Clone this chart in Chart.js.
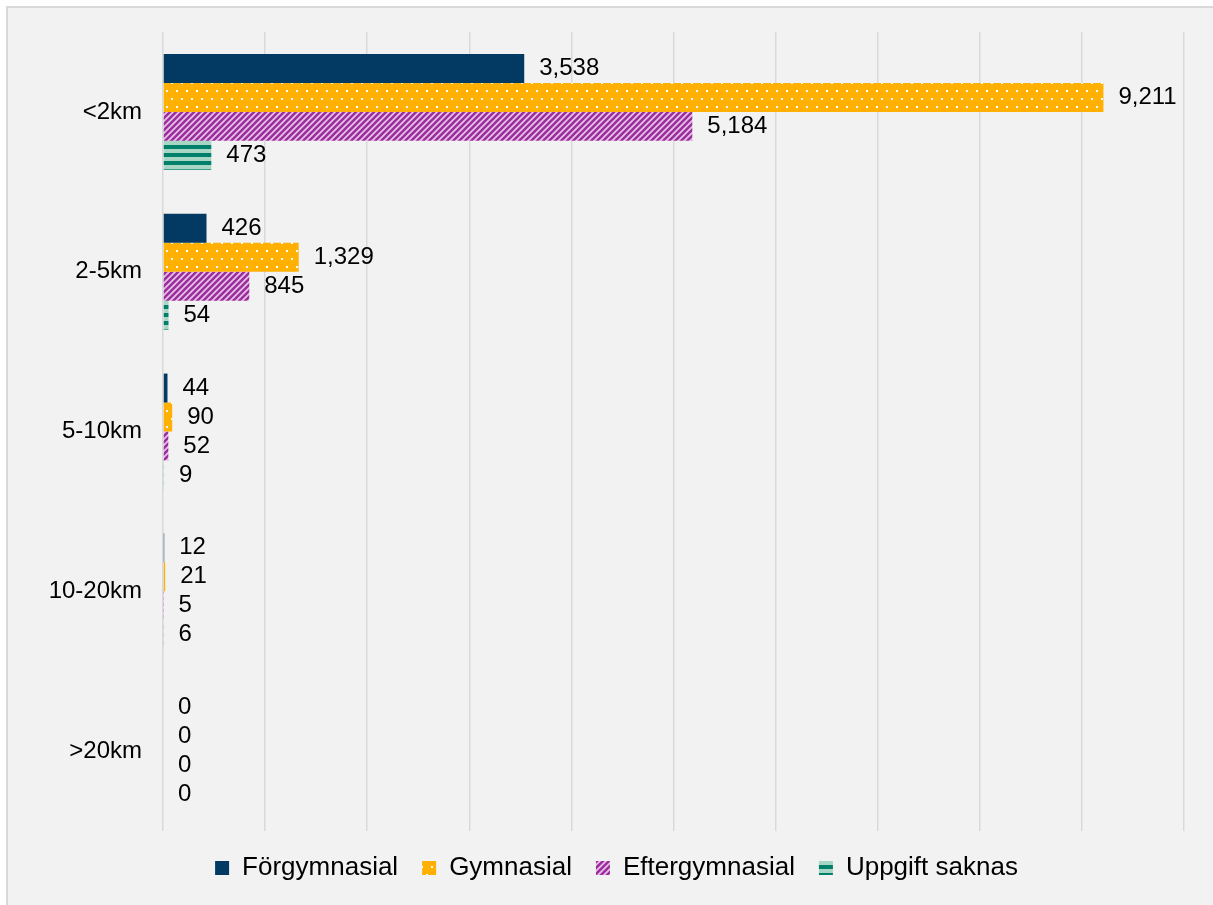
<!DOCTYPE html>
<html>
<head>
<meta charset="utf-8">
<title>Avstånd</title>
<script src="https://cdn.jsdelivr.net/npm/chart.js@4"></script>
<style>
  html, body { margin: 0; padding: 0; background: #fff; }
  #frame {
    position: absolute; left: 6px; top: 6px; width: 1207px; height: 899px;
    background: #f2f2f2; border-top: 2px solid #d9d9d9; border-left: 2px solid #d9d9d9;
  }
  #myChart { position: absolute; left: 0; top: 0; }
</style>
</head>
<body>
<div id="frame"></div>
<canvas id="myChart" width="1213" height="905"></canvas>
<script>
var categories = ['<2km', '2-5km', '5-10km', '10-20km', '>20km'];
var seriesNames = ['Förgymnasial', 'Gymnasial', 'Eftergymnasial', 'Uppgift saknas'];
var forgymnasial = [3538, 426, 44, 12, 0];
var gymnasial = [9211, 1329, 90, 21, 0];
var eftergymnasial = [5184, 845, 52, 5, 0];
var saknas = [473, 54, 9, 6, 0];

Chart.defaults.font.family = '"Liberation Sans", Arial, sans-serif';
Chart.defaults.color = '#000';

var canvas = document.getElementById('myChart');
var ctx = canvas.getContext('2d');

function makePattern(w, h, draw) {
  var c = document.createElement('canvas');
  c.width = w;
  c.height = h;
  draw(c.getContext('2d'), w, h);
  return ctx.createPattern(c, 'repeat');
}

// orange with small white dots
var dots = makePattern(10, 16, function(g, w, h) {
  g.fillStyle = '#ffb000';
  g.fillRect(0, 0, w, h);
  g.fillStyle = '#ffffff';
  g.fillRect(1, 2, 2, 2);
  g.fillRect(6, 10, 2, 2);
});

// purple diagonal hatch
var hatch = makePattern(6, 6, function(g, w, h) {
  g.fillStyle = '#e9c3ea';
  g.fillRect(0, 0, w, h);
  g.strokeStyle = '#9b2f9d';
  g.lineWidth = 2.6;
  g.beginPath();
  g.moveTo(-1, 7); g.lineTo(7, -1);
  g.moveTo(-4, 4); g.lineTo(4, -4);
  g.moveTo(2, 10); g.lineTo(10, 2);
  g.stroke();
});

// green horizontal stripes
var stripes = makePattern(8, 8, function(g, w, h) {
  g.fillStyle = '#a8d6c4';
  g.fillRect(0, 0, w, h);
  g.fillStyle = '#00806a';
  g.fillRect(0, 1, w, 4);
});

var valueLabels = {
  id: 'valueLabels',
  afterDatasetsDraw: function(chart) {
    var c = chart.ctx;
    c.save();
    c.font = '24px "Liberation Sans", Arial, sans-serif';
    c.fillStyle = '#000';
    c.textAlign = 'left';
    c.textBaseline = 'middle';
    chart.data.datasets.forEach(function(ds, i) {
      chart.getDatasetMeta(i).data.forEach(function(bar, j) {
        c.fillText(ds.data[j].toLocaleString('en-US'), bar.x + 15, bar.y);
      });
    });
    c.restore();
  }
};

var myChart = new Chart(ctx, {
  type: 'bar',
  data: {
    labels: categories,
    datasets: [
      { label: seriesNames[0], data: forgymnasial, backgroundColor: '#023a63' },
      { label: seriesNames[1], data: gymnasial, backgroundColor: dots },
      { label: seriesNames[2], data: eftergymnasial, backgroundColor: hatch },
      { label: seriesNames[3], data: saknas, backgroundColor: stripes }
    ]
  },
  options: {
    indexAxis: 'y',
    responsive: false,
    animation: false,
    categoryPercentage: 0.725,
    barPercentage: 1,
    borderWidth: 0,
    layout: {
      padding: { left: 49, right: 29, top: 32, bottom: 14 }
    },
    scales: {
      x: {
        min: 0,
        max: 10000,
        ticks: { display: false, stepSize: 1000 },
        grid: { color: '#d9d9d9', lineWidth: 1.5, drawTicks: false },
        border: { display: false },
        afterFit: function(scale) { scale.height = 0; }
      },
      y: {
        grid: { display: false, drawTicks: false },
        border: { display: false },
        ticks: { padding: 21, font: { size: 24 }, color: '#000' },
        afterFit: function(scale) {
          scale.width = 114;
          scale.paddingTop = 0;
          scale.paddingBottom = 0;
        }
      }
    },
    plugins: {
      legend: {
        position: 'bottom',
        labels: {
          boxWidth: 14,
          boxHeight: 14,
          padding: 24,
          color: '#000',
          font: { size: 26 }
        }
      },
      tooltip: { enabled: false }
    }
  },
  plugins: [valueLabels]
});
</script>
</body>
</html>
